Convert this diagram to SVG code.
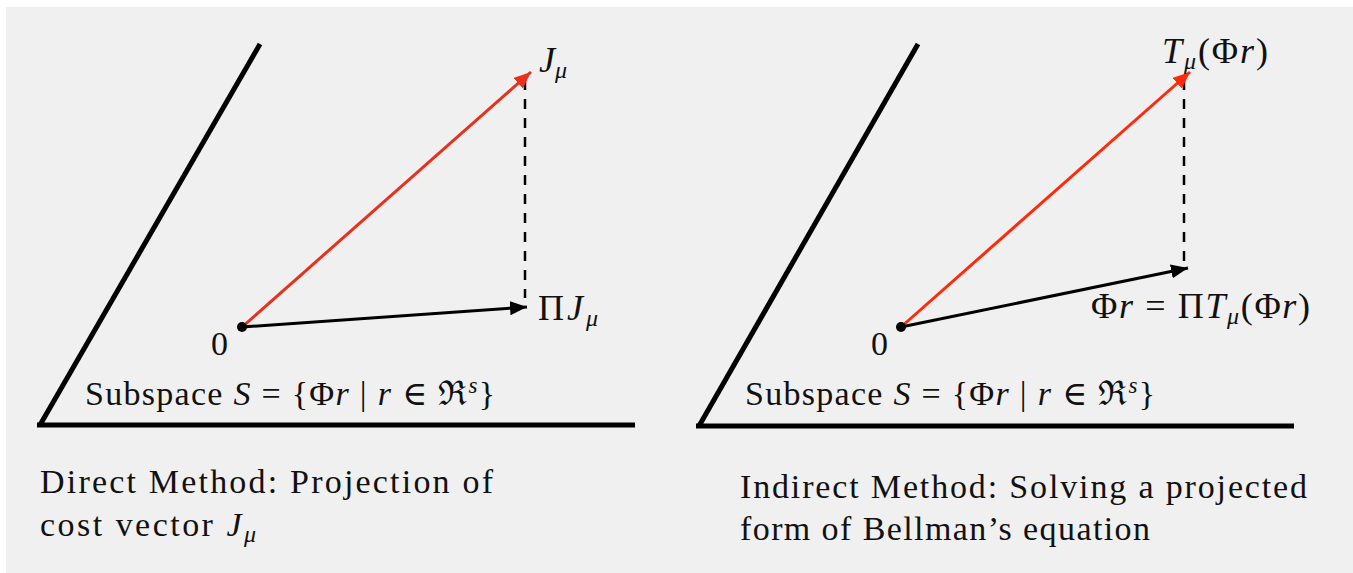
<svg xmlns="http://www.w3.org/2000/svg" width="1353" height="573" viewBox="0 0 1353 573">
<style>
.bg{fill:#f0f0f0}
.axis{stroke:#000;stroke-width:5;fill:none}
.vec{stroke-width:3;fill:none}
.red{stroke:#e8301c}
.red2{stroke:#ff2a0a}
.blk{stroke:#000}
.dash{stroke:#000;stroke-width:2.5;stroke-dasharray:10 9;fill:none}
text{font-family:"Liberation Serif","DejaVu Serif",serif;fill:#111;font-size:34px}
.m{font-size:36px}
.it{font-style:italic}
.sub{font-size:24px;font-style:italic}
</style>
<defs>
<marker id="ahR" markerUnits="userSpaceOnUse" markerWidth="20" markerHeight="16" refX="17" refY="7" orient="auto"><path d="M0,0 L17,7 L0,14 Z" fill="#e8301c"/></marker>
<marker id="ahR2" markerUnits="userSpaceOnUse" markerWidth="20" markerHeight="16" refX="17" refY="7" orient="auto"><path d="M0,0 L17,7 L0,14 Z" fill="#ff2a0a"/></marker>
<marker id="ahK" markerUnits="userSpaceOnUse" markerWidth="20" markerHeight="16" refX="17" refY="7" orient="auto"><path d="M0,0 L17,7 L0,14 Z" fill="#000"/></marker>
</defs>
<rect x="0" y="0" width="1353" height="573" fill="#ffffff"/>
<rect class="bg" x="6" y="7" width="1347" height="566"/>

<g id="left-subspace">
<path class="axis" d="M40,425 L260,44"/>
<path class="axis" d="M37,425 L635,425"/>
</g>
<g id="right-subspace">
<path class="axis" d="M699,426 L918,44"/>
<path class="axis" d="M696,426 L1294,426"/>
</g>

<g id="connectors">
<path class="dash" d="M525,80 L525,298"/>
<path class="vec red" d="M242,327 L531,72" marker-end="url(#ahR)"/>
<path class="vec blk" d="M242,327 L527,307" marker-end="url(#ahK)"/>
<path class="dash" d="M1184,80 L1184,266"/>
<path class="vec red2" d="M901,327 L1190,72" marker-end="url(#ahR2)"/>
<path class="vec blk" d="M901,327 L1188,268" marker-end="url(#ahK)"/>
</g>

<g id="left-origin">
<circle cx="242" cy="327" r="5" fill="#000"/>
<text x="211" y="355">0</text>
</g>
<g id="left-J">
<text class="m" x="539" y="72"><tspan class="it">J</tspan><tspan class="sub" dy="6">μ</tspan></text>
</g>
<g id="left-PiJ">
<text class="m" x="538" y="320" textLength="60" lengthAdjust="spacing">Π<tspan class="it">J</tspan><tspan class="sub" dy="6">μ</tspan></text>
</g>
<g id="left-label">
<text x="85" y="405" textLength="410" lengthAdjust="spacing">Subspace <tspan class="it">S</tspan> = {Φ<tspan class="it">r</tspan> | <tspan class="it">r</tspan> ∈ ℜ<tspan font-size="23" class="it" dy="-12">s</tspan><tspan dy="12">}</tspan></text>
</g>
<g id="left-caption">
<text x="40" y="493" textLength="453" lengthAdjust="spacing">Direct Method: Projection of</text>
<text x="40" y="536" textLength="216" lengthAdjust="spacing">cost vector <tspan class="it">J</tspan><tspan class="sub" dy="6">μ</tspan></text>
</g>

<g id="right-origin">
<circle cx="901" cy="327" r="5" fill="#000"/>
<text x="871" y="355">0</text>
</g>
<g id="right-T">
<text class="m" x="1162" y="63" textLength="106" lengthAdjust="spacing"><tspan class="it">T</tspan><tspan class="sub" dy="6">μ</tspan><tspan dy="-6">(Φ</tspan><tspan class="it">r</tspan>)</text>
</g>
<g id="right-fixed">
<text class="m" x="1091" y="318" textLength="219" lengthAdjust="spacing">Φ<tspan class="it">r</tspan> = Π<tspan class="it">T</tspan><tspan class="sub" dy="6">μ</tspan><tspan dy="-6">(Φ</tspan><tspan class="it">r</tspan>)</text>
</g>
<g id="right-label">
<text x="745" y="405" textLength="410" lengthAdjust="spacing">Subspace <tspan class="it">S</tspan> = {Φ<tspan class="it">r</tspan> | <tspan class="it">r</tspan> ∈ ℜ<tspan font-size="23" class="it" dy="-12">s</tspan><tspan dy="12">}</tspan></text>
</g>
<g id="right-caption">
<text x="740" y="498" textLength="567" lengthAdjust="spacing">Indirect Method: Solving a projected</text>
<text x="740" y="540" textLength="410" lengthAdjust="spacing">form of Bellman’s equation</text>
</g>
</svg>
